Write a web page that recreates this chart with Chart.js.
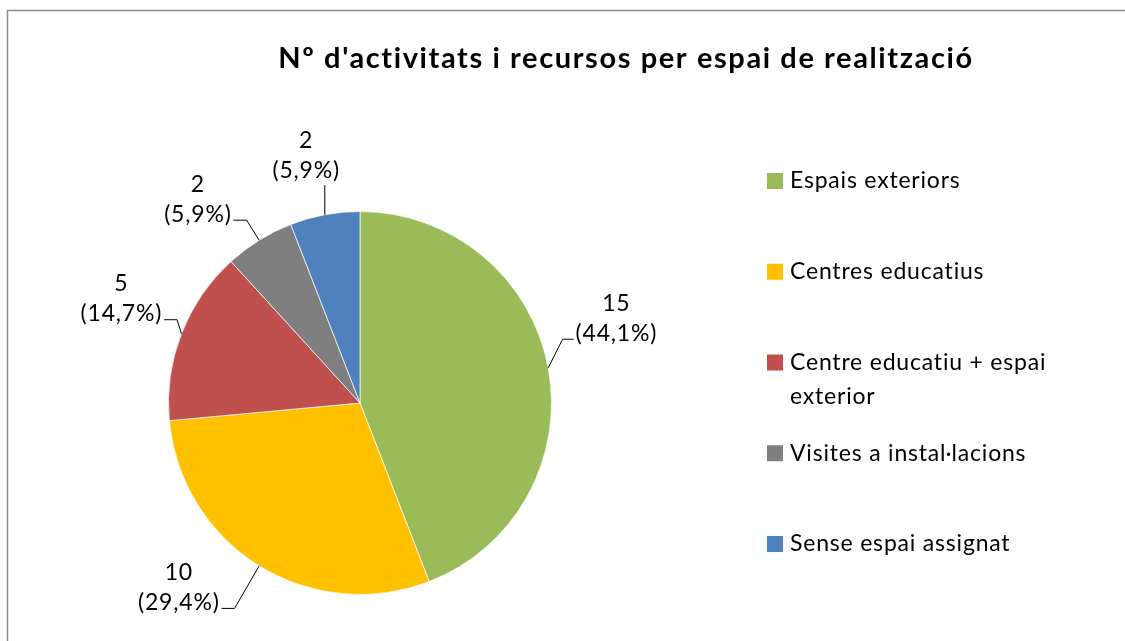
<!DOCTYPE html>
<html>
<head>
<meta charset="utf-8">
<script src="https://cdn.jsdelivr.net/npm/chart.js@4.4.0/dist/chart.umd.min.js"></script>
<style>
  body { margin: 0; background: #fff; }
  #wrap { width: 1125px; height: 641px; position: relative; }
</style>
</head>
<body>
<div id="wrap"><canvas id="graph" width="1125" height="641"></canvas></div>
<script>
var titleText = "Nº d'activitats i recursos per espai de realització";
var categories = ['Espais exteriors', 'Centres educatius', 'Centre educatiu + espai exterior', 'Visites a instal·lacions', 'Sense espai assignat'];
var values = [15, 10, 5, 2, 2];
var colors = ['#9BBB59', '#FFC000', '#C0504D', '#7F7F7F', '#4F81BD'];

// where each data label sits: angle (deg, clockwise from top) and distance in radii
var labelAngle = [71.7, 224.5, 293.6, 321.5, 347.7];
var labelDist = [1.41, 1.35, 1.36, 1.36, 1.32];

var labelFont = '23px Lato';
var labelSpacing = '0.8px';
var total = values.reduce(function (a, b) { return a + b; }, 0);

function pctText(v) {
  return '(' + (v / total * 100).toFixed(1).replace('.', ',') + '%)';
}

// frame + title
var framePlugin = {
  id: 'frame',
  beforeDraw: function (chart) {
    var ctx = chart.ctx;
    ctx.save();
    ctx.fillStyle = '#fff';
    ctx.fillRect(0, 0, chart.width, chart.height);
    ctx.strokeStyle = '#8c8c8c';
    ctx.lineWidth = 1.5;
    ctx.strokeRect(7.5, 10.5, 1200, 700);
    ctx.fillStyle = '#000';
    ctx.font = 'bold 29px Lato';
    ctx.letterSpacing = '1.6px';
    ctx.textAlign = 'center';
    ctx.textBaseline = 'middle';
    ctx.fillText(titleText, 626, 59);
    ctx.restore();
  }
};

// data labels with leader lines
var labelPlugin = {
  id: 'pieLabels',
  afterDatasetsDraw: function (chart) {
    var ctx = chart.ctx;
    var meta = chart.getDatasetMeta(0);
    var lh = 30;
    ctx.save();
    ctx.font = labelFont;
    ctx.letterSpacing = labelSpacing;
    ctx.fillStyle = '#000';
    ctx.strokeStyle = '#000';
    ctx.lineWidth = 1;
    ctx.textAlign = 'center';
    ctx.textBaseline = 'middle';
    meta.data.forEach(function (arc, i) {
      var p = arc.getProps(['x', 'y', 'startAngle', 'endAngle', 'outerRadius'], true);
      var mid = (p.startAngle + p.endAngle) / 2;
      var ex = p.x + Math.cos(mid) * p.outerRadius;
      var ey = p.y + Math.sin(mid) * p.outerRadius;
      var a = labelAngle[i] * Math.PI / 180 - Math.PI / 2;
      var lx = p.x + Math.cos(a) * p.outerRadius * labelDist[i];
      var ly = p.y + Math.sin(a) * p.outerRadius * labelDist[i];
      var l2 = pctText(values[i]);
      ctx.fillText(String(values[i]), lx, ly - lh / 2);
      ctx.fillText(l2, lx, ly + lh / 2);
      var w2 = ctx.measureText(l2).width;
      ctx.beginPath();
      if (Math.abs(ex - lx) < w2 / 2) {
        ctx.moveTo(ex, ly + lh / 2 + 14);
        ctx.lineTo(ex, ey);
      } else if (lx > p.x) {
        var sx = lx - w2 / 2 - 2, sy = ly + lh / 2 + 6;
        ctx.moveTo(sx, sy);
        ctx.lineTo(sx - 11, sy);
        ctx.lineTo(ex, ey);
      } else {
        var sx2 = lx + w2 / 2 + 2, sy2 = ly + lh / 2 + 6;
        ctx.moveTo(sx2, sy2);
        ctx.lineTo(sx2 + 13, sy2);
        ctx.lineTo(ex, ey);
      }
      ctx.stroke();
    });
    ctx.restore();
  }
};

// legend on the right, Excel-like spacing
var legendPlugin = {
  id: 'sideLegend',
  afterDraw: function (chart) {
    var ctx = chart.ctx;
    var x = 767, y = 181, lineH = 34, step = 90.75, maxW = 272;
    ctx.save();
    ctx.font = labelFont;
    ctx.letterSpacing = labelSpacing;
    ctx.textBaseline = 'middle';
    ctx.textAlign = 'left';
    categories.forEach(function (name, i) {
      var words = name.split(' ');
      var lines = [], cur = '';
      words.forEach(function (w) {
        var t = cur ? cur + ' ' + w : w;
        if (ctx.measureText(t).width > maxW && cur) { lines.push(cur); cur = w; } else { cur = t; }
      });
      lines.push(cur);
      ctx.fillStyle = colors[i];
      ctx.fillRect(x, y - 8, 16, 16);
      ctx.fillStyle = '#000';
      lines.forEach(function (ln, k) { ctx.fillText(ln, x + 23, y + k * lineH); });
      y += step;
    });
    ctx.restore();
  }
};

var config = {
  type: 'pie',
  data: {
    labels: categories,
    datasets: [{
      data: values,
      backgroundColor: colors,
      borderColor: 'rgba(255,255,255,0.7)',
      borderWidth: 1
    }]
  },
  options: {
    responsive: false,
    animation: false,
    layout: { padding: { left: 168, right: 573, top: 211, bottom: 46 } },
    plugins: {
      legend: { display: false },
      title: { display: false },
      tooltip: { enabled: false }
    }
  },
  plugins: [framePlugin, labelPlugin, legendPlugin]
};

var myChart = new Chart(document.getElementById('graph'), config);
</script>
</body>
</html>
